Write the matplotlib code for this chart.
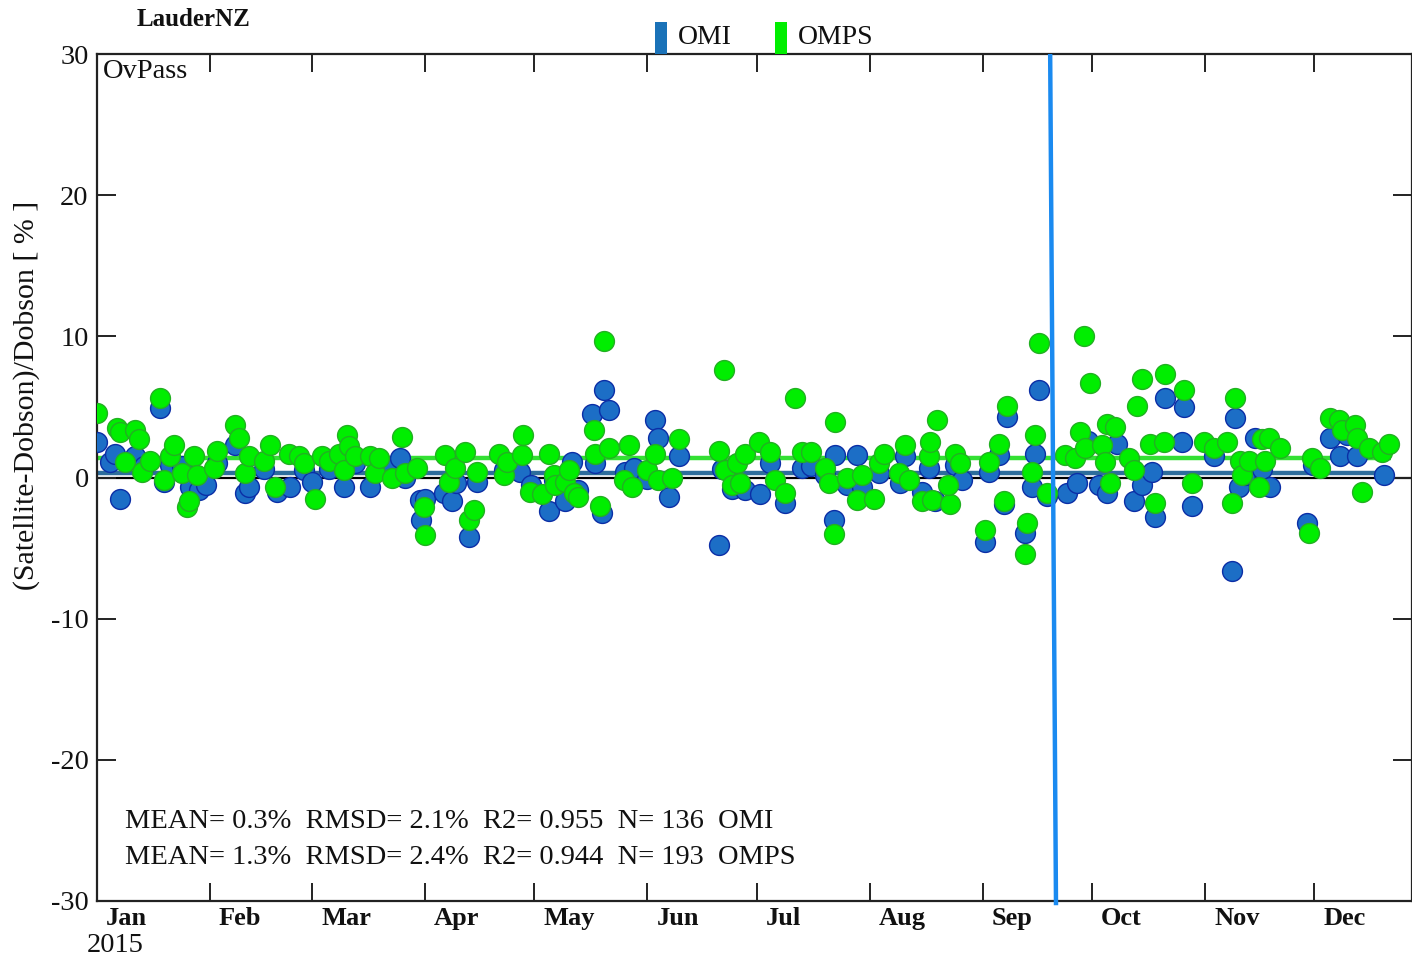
import matplotlib
matplotlib.use("Agg")
import matplotlib.pyplot as plt
import matplotlib.transforms as mtransforms
from matplotlib.patches import Rectangle
import numpy as np

# ---------------- data ----------------
month_labels = ["Jan", "Feb", "Mar", "Apr", "May", "Jun", "Jul", "Aug", "Sep", "Oct", "Nov", "Dec"]
month_starts = [0, 31, 59, 90, 120, 151, 181, 212, 243, 273, 304, 334]
yticks = [-30, -20, -10, 0, 10, 20, 30]

omi_day = [0, 3.6, 4.9, 6.3, 10.4, 13, 17.3, 18.4, 20, 23.3, 25.5, 28, 30, 33, 37.9, 40.6, 41.7,
           45.8, 49.4, 53, 56.8, 59, 63.6, 67.8, 70.8, 74.9, 77.4, 80.9, 83, 84.5, 88.6, 88.9, 90,
           95.2, 97.4, 98.5, 102, 104.3, 111.7, 116, 119, 124, 125.4, 128.4, 130.3, 132, 135.8,
           136.6, 139, 140.5, 138.5, 144.8, 147.3, 151, 153, 154, 157, 159.7, 170.6, 171.5, 174.2,
           177.8, 182, 184.6, 188.7, 193.4, 196, 199.8, 202.2, 202.5, 205.8, 208.5, 209.9, 214.5,
           220.3, 221.7, 226.3, 228.2, 229.9, 235.4, 237.3, 243.6, 244.7, 247.5, 248.8, 249.7,
           254.6, 256.5, 257.3, 258.4, 260.6, 266.1, 268.9, 272, 274.9, 277, 279.8, 284.5, 286.7,
           289.4, 290.3, 293, 297.7, 298.2, 300.4, 306.5, 311.4, 312.2, 313.3, 315, 317.7, 319.5,
           321.8, 332, 333.5, 338.3, 341, 343, 345.7, 353]
omi_val = [2.5, 1.1, 1.7, -1.5, 1.5, 0.8, 4.9, -0.3, 0.9, 0.8, -0.7, -0.9, -0.5, 1.0, 2.3, -1.1, -0.7,
           0.6, -1.0, -0.7, 0.5, -0.3, 0.6, -0.7, 1.0, -0.7, 0.5, 0.7, 1.4, 0.0, -1.6, -3.0, -1.5,
           -1.1, -1.7, -0.4, -4.2, -0.3, 0.5, 0.4, -0.5, -2.4, -0.2, -1.7, 1.1, -0.9, 4.5,
           1.0, 6.2, 4.8, -2.5, 0.4, 0.7, -0.1, 4.1, 2.8, -1.4, 1.5, -4.8, 0.6, -0.8,
           -0.9, -1.2, 1.0, -1.8, 0.7, 0.8, 0.2, -3.0, 1.6, -0.5, 1.6, -0.7, 0.3,
           -0.4, 1.5, -1.0, 0.7, -1.7, 0.9, -0.2, -4.6, 0.4, 1.6, -1.9, 4.3,
           -3.9, -0.7, 1.7, 6.2, -1.3, -1.1, -0.4, 2.6, -0.5, -1.1, 2.4, -1.7, -0.5,
           0.4, -2.8, 5.6, 2.5, 5.0, -2.0, 1.5, -6.6, 4.2, -0.7, 0.2, 2.8, 0.6,
           -0.7, -3.2, 0.9, 2.8, 1.5, 3.0, 1.5, 0.2]

omps_day = [0, 5.5, 6.3, 7.7, 10.4, 11.5, 12.3, 14.5, 17.3, 18.4, 20, 21, 23.3, 24.7, 25.2, 26.6, 27.5,
            32, 33, 37.9, 39, 40.6, 41.7, 45.8, 47.5, 48.8, 52.7, 55.4, 56.8, 59.8, 61.7, 63.6, 66.4,
            67.8, 68.6, 69.1, 70.8, 74.9, 76.3, 77.4, 80.9, 83.7, 84.5, 87.8, 89.7, 90, 95.5, 96.6,
            98.2, 101, 102, 103.4, 104.3, 110.3, 111.7, 112.5, 116.6, 117, 118.8, 122, 124, 125.4,
            125.7, 128.4, 129.5, 131, 132, 136.4, 136.6, 138, 139, 140.5, 144.6, 146, 146.8, 151,
            153, 154, 157.7, 159.7, 170.6, 172, 172.3, 174.2, 175.6, 177.8, 176.5, 181.6, 184.6,
            186, 188.7, 191.5, 193.4, 196, 199.8, 200.8, 202.2, 202.5, 205.8, 208.5, 209.9, 213.2,
            214.5, 216, 220, 221.7, 222.8, 226.3, 228.2, 228.5, 229, 230.5, 234, 233.5, 235.4,
            236.8, 243.6, 244.7, 247.5, 248.8, 249.7, 254.6, 255.1, 256.5, 257.3, 258.4, 260.6,
            265.6, 268.3, 269.7, 270.8, 271, 272.4, 275.7, 276.5, 277, 278, 279.3, 283.1, 284.5,
            285.3, 286.7, 289, 290.3, 292.7, 293, 298.2, 300.4, 303.7, 306.5, 310, 311.4, 312.2,
            313.6, 314.1, 316, 318.8, 319.6, 320.5, 321.5, 324.6, 332.5, 333.3, 335.5, 338.3,
            340.7, 341.6, 345.1, 345.7, 347, 349, 352.5, 354.5]
omps_val = [4.6, 3.5, 3.2, 1.1, 3.4, 2.7, 0.4, 1.2, 5.6, -0.2, 1.5, 2.3, 0.3, -2.1, -1.7, 1.5, 0.2,
            0.7, 1.9, 3.7, 2.8, 0.3, 1.5, 1.2, 2.3, -0.7, 1.7, 1.5, 1.0, -1.5, 1.5, 1.2, 1.7,
            0.5, 3.0, 2.2, 1.5, 1.5, 0.3, 1.4, 0.0, 2.9, 0.3, 0.7, -2.1, -4.1, 1.6, -0.3,
            0.7, 1.8, -3.0, -2.3, 0.4, 1.7, 0.2, 1.1, 1.6, 3.0, -1.0, -1.2, 1.7, 0.2,
            -0.5, -0.3, 0.5, -1.1, -1.4, 3.4, 1.7, -2.0, 9.7, 2.1, -0.2, 2.3, -0.7, 0.5,
            1.7, -0.2, 0.0, 2.7, 1.9, 7.6, 0.5, -0.5, 1.0, 1.7, -0.4, 2.5, 1.8,
            -0.2, -1.1, 5.6, 1.8, 1.8, 0.7, -0.4, -4.0, 3.9, 0.0, -1.6, 0.2, -1.5,
            1.0, 1.7, 0.3, 2.3, -0.2, -1.7, 1.5, 2.5, -1.6, 4.1, -1.9, -0.5, 1.7,
            1.0, -3.7, 1.1, 2.4, -1.7, 5.1, -5.4, -3.2, 0.4, 3.0, 9.5, -1.1,
            1.6, 1.4, 3.2, 10.0, 2.1, 6.7, 2.3, 1.1, 3.8, -0.4, 3.6, 1.4, 0.5,
            5.1, 7.0, 2.4, -1.8, 2.5, 7.3, 6.2, -0.4, 2.5, 2.1, 2.5, -1.8, 5.6,
            1.2, 0.2, 1.2, -0.7, 2.7, 1.2, 2.8, 2.1, -3.9, 1.4, 0.7, 4.2,
            4.1, 3.4, 3.7, 2.8, -1.0, 2.1, 1.8, 2.4]

omi_mean_line = 0.35
omps_mean_line = 1.4
mean_line_end = 355
marker_day = [261.5, 263.1]
marker_y = [30, -30.3]

stats_lines = ["MEAN= 0.3%  RMSD= 2.1%  R2= 0.955  N= 136  OMI",
               "MEAN= 1.3%  RMSD= 2.4%  R2= 0.944  N= 193  OMPS"]

# ---------------- figure ----------------
W, H = 1412, 960
FS = 20.5
plt.rcParams['font.family'] = ['Liberation Serif', 'DejaVu Serif']
fig = plt.figure(figsize=(W / 100, H / 100), dpi=100)
ax = fig.add_axes([97 / W, 1 - 901 / H, (W - 97) / W, (901 - 54) / H])
ax.set_xlim(0, (W - 97) / 3.645)
ax.set_ylim(-30, 30)

for s in ["left", "top", "bottom", "right"]:
    ax.spines[s].set_linewidth(1.6)
    ax.spines[s].set_color("#222222")

# zero line and mean lines
ax.axhline(0, color="black", lw=1.6, zorder=1)
ax.plot([0, mean_line_end], [omi_mean_line] * 2, color="#2d6d9c", lw=3.2, zorder=1.5, solid_capstyle="butt")
ax.plot([0, mean_line_end], [omps_mean_line] * 2, color="#33e033", lw=3.2, zorder=1.5, solid_capstyle="butt")

# points
ax.plot(omi_day, omi_val, "o", ls="none", ms=14.3, mfc="#1c6ec6", mec="#0b2ea6", mew=1.0, zorder=3)
ax.plot(omps_day, omps_val, "o", ls="none", ms=14.3, mfc="#00ee00", mec="#22b022", mew=1.0, zorder=4)

# annotation vertical line
ax.plot(marker_day, marker_y, color="#1a8af0", lw=3.2, zorder=6, clip_on=False, solid_capstyle="butt")

# ticks
ax.set_xticks(month_starts)
ax.set_xticklabels(month_labels)
ax.tick_params(axis="x", which="both", direction="in", length=13, width=1.4, top=True, bottom=True,
               labelsize=19, pad=4, colors="#222222", labelcolor="#111111")
off = mtransforms.ScaledTranslation(9 / 100, 0, fig.dpi_scale_trans)
for lab in ax.get_xticklabels():
    lab.set_horizontalalignment("left")
    lab.set_transform(lab.get_transform() + off)
    lab.set_fontweight("bold")

ax.set_yticks(yticks)
ax.set_yticklabels([str(v) for v in yticks])
ax.tick_params(axis="y", direction="in", length=14, width=1.4, left=True, right=True,
               labelsize=FS, pad=6, colors="#222222", labelcolor="#111111")

# texts
fig.text(115 / W, 1 - 946 / H, "2015", ha="center", va="center", fontsize=FS, color="#111111")
fig.text(27 / W, 1 - 395 / H, "(Satellite-Dobson)/Dobson [ % ]", rotation=90, ha="center", va="center",
         fontsize=21.5, color="#111111")
fig.text(137 / W, 1 - 20 / H, "LauderNZ", ha="left", va="center", fontsize=18, color="#111111",
         fontweight="bold")
ax.text(6 / (W - 97), 1 - 18 / 847, "OvPass", transform=ax.transAxes, ha="left", va="center",
        fontsize=FS, color="#111111")

ax.text(28 / (W - 97), 1 - (822 - 54) / 847, stats_lines[0], transform=ax.transAxes, ha="left",
        va="center", fontsize=FS, color="#111111")
ax.text(28 / (W - 97), 1 - (857 - 54) / 847, stats_lines[1], transform=ax.transAxes, ha="left",
        va="center", fontsize=FS, color="#111111")

# legend
fig.patches.append(Rectangle((655 / W, 1 - 54 / H), 12 / W, 32 / H, transform=fig.transFigure,
                             facecolor="#1a72b8", edgecolor="none"))
fig.patches.append(Rectangle((775 / W, 1 - 54 / H), 12 / W, 32 / H, transform=fig.transFigure,
                             facecolor="#00ee00", edgecolor="none"))
fig.text(678 / W, 1 - 38 / H, "OMI", ha="left", va="center", fontsize=20, color="#111111")
fig.text(798 / W, 1 - 38 / H, "OMPS", ha="left", va="center", fontsize=20, color="#111111")

fig.savefig("out.png", dpi=100)
